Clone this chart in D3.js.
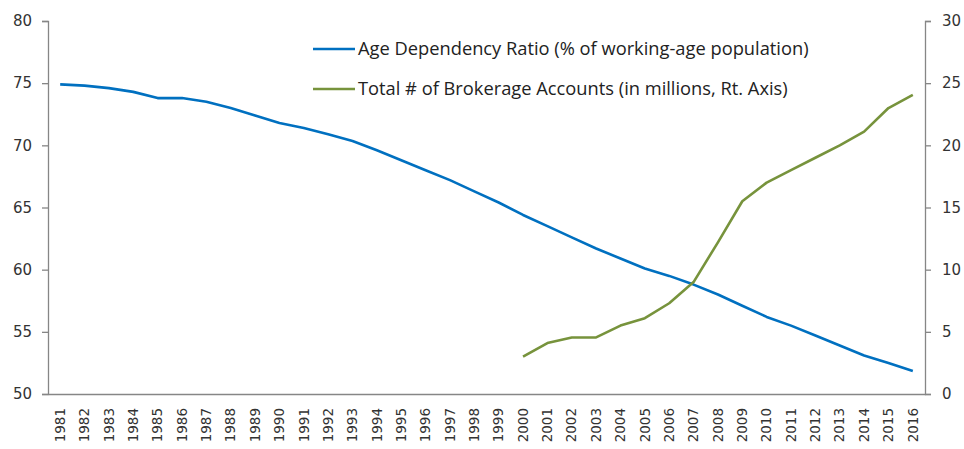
<!DOCTYPE html>
<html>
<head>
<meta charset="utf-8">
<script src="https://cdn.jsdelivr.net/npm/d3@7"></script>
<style>
  body { margin: 0; background: #fff; }
  svg { display: block; }
</style>
</head>
<body>
<svg width="964" height="449"></svg>
<script>
// years on the category axis
var years = d3.range(1981, 2017).map(String);

// age dependency ratio, % of working-age population (left axis)
var ageRatio = [74.9, 74.8, 74.6, 74.3, 73.8, 73.8, 73.5, 73.0, 72.4, 71.8,
	71.4, 70.9, 70.35, 69.6, 68.8, 68.0, 67.2, 66.3, 65.4, 64.4,
	63.5, 62.6, 61.7, 60.9, 60.1, 59.5, 58.8, 58.0, 57.1, 56.2,
	55.5, 54.7, 53.9, 53.1, 52.5, 51.85];

// brokerage accounts in millions, from 2000 (right axis)
var accYears = d3.range(2000, 2017).map(String);
var accounts = [3.0, 4.1, 4.55, 4.55, 5.5, 6.1, 7.3, 9.0, 12.2, 15.5,
	17.0, 18.0, 19.0, 20.0, 21.1, 23.0, 24.05];

var leftTicks = [50, 55, 60, 65, 70, 75, 80];
var rightTicks = [0, 5, 10, 15, 20, 25, 30];

var seriesNames = ["Age Dependency Ratio (% of working-age population)",
	"Total # of Brokerage Accounts (in millions, Rt. Axis)"];
var colors = ["#0070c0", "#77933c"];

var svg = d3.select('svg');
var x0 = 48, x1 = 925, yTop = 21, yBot = 394;
var axisColor = '#868686';
var labelColor = '#333';

var x = d3.scaleBand().domain(years).range([x0, x1]);
var yL = d3.scaleLinear().domain([50, 80]).range([yBot, yTop]);
var yR = d3.scaleLinear().domain([0, 30]).range([yBot, yTop]);

function cx(yr) { return x(yr) + x.bandwidth()/2; }

// left axis
var gL = svg.append('g').attr('transform', 'translate(' + x0 + ',0)')
	.call(d3.axisLeft(yL).tickValues(leftTicks).tickSize(6).tickPadding(10));
// right axis
var gR = svg.append('g').attr('transform', 'translate(' + x1 + ',0)')
	.call(d3.axisRight(yR).tickValues(rightTicks).tickSize(6).tickPadding(11));
[gL, gR].forEach(function(g) {
	g.select('.domain').attr('stroke', axisColor).attr('stroke-width', 1.3);
	g.selectAll('.tick line').attr('stroke', axisColor).attr('stroke-width', 1.3);
	g.selectAll('.tick text').attr('fill', labelColor)
		.style('font-family', 'DejaVu Sans').style('font-size', '15px');
});

// bottom axis
var gB = svg.append('g').attr('transform', 'translate(0,' + yBot + ')')
	.call(d3.axisBottom(x).tickSize(0).tickPadding(0));
gB.select('.domain').attr('stroke', axisColor).attr('stroke-width', 1.3);
gB.selectAll('.tick text')
	.attr('fill', labelColor)
	.style('font-family', 'DejaVu Sans').style('font-size', '13.5px')
	.attr('text-anchor', 'end')
	.attr('dy', '0.35em')
	.attr('transform', 'translate(0,14) rotate(-90)')
	.attr('x', 0).attr('y', 0);

// lines
var lineL = d3.line().x(function(d, i) { return cx(years[i]); }).y(function(d) { return yL(d); });
var lineR = d3.line().x(function(d, i) { return cx(accYears[i]); }).y(function(d) { return yR(d); });

svg.append('path').attr('d', lineL(ageRatio))
	.attr('fill', 'none').attr('stroke', colors[0]).attr('stroke-width', 2.6)
	.attr('stroke-linejoin', 'round');
svg.append('path').attr('d', lineR(accounts))
	.attr('fill', 'none').attr('stroke', colors[1]).attr('stroke-width', 2.6)
	.attr('stroke-linejoin', 'round');

// legend
var leg = svg.append('g');
seriesNames.forEach(function(name, i) {
	var ly = 49 + i*40;
	leg.append('line').attr('x1', 313).attr('x2', 355).attr('y1', ly).attr('y2', ly)
		.attr('stroke', colors[i]).attr('stroke-width', 2.6);
	leg.append('text').attr('x', 358).attr('y', ly).attr('dy', '0.35em')
		.attr('fill', '#222')
		.style('font-family', 'Open Sans').style('font-size', '18.3px')
		.text(name);
});
</script>
</body>
</html>
